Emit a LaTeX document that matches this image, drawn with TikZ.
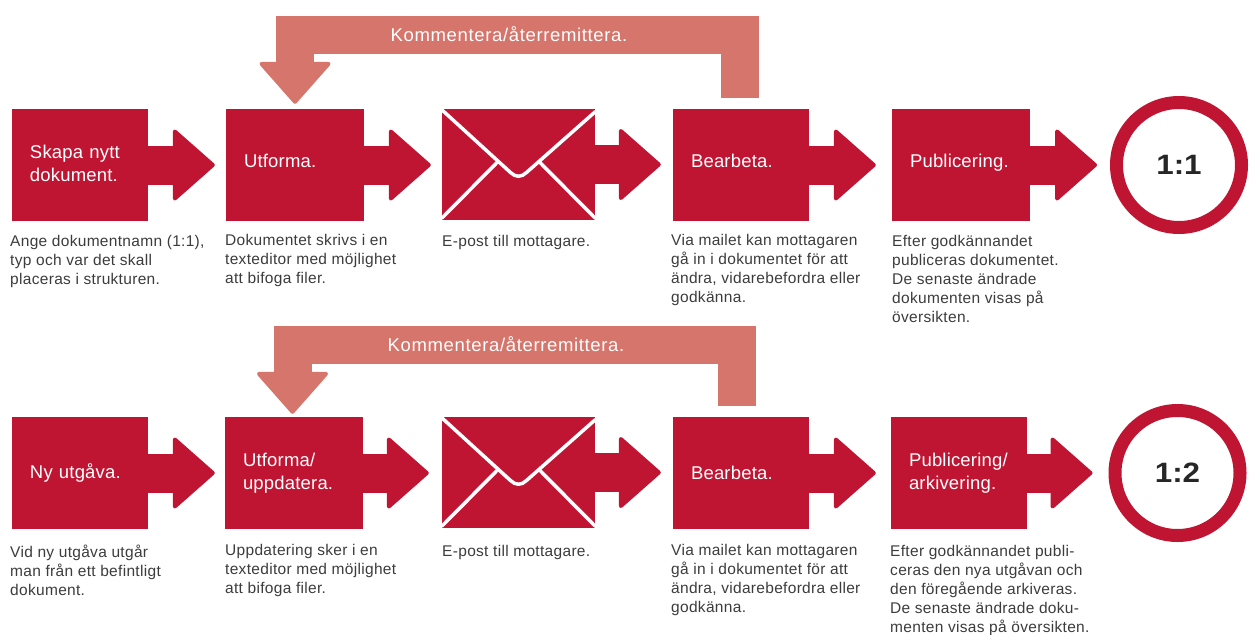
\documentclass[tikz,border=0pt]{standalone}
\usepackage{fontspec}
\setmainfont{Liberation Sans}
\newfontfamily\brodfont[LetterSpace=2]{Liberation Sans}
\newfontfamily\rubrikfont[LetterSpace=1]{Liberation Sans}
\newfontfamily\returfont[LetterSpace=3.5]{Liberation Sans}
\newfontfamily\ringfont[FakeStretch=1.12]{Liberation Sans}
\usepackage{xcolor}
\usetikzlibrary{arrows.meta}

\definecolor{flodered}{RGB}{192,21,50}
\definecolor{returrosa}{RGB}{214,117,107}
\definecolor{brodtext}{RGB}{60,60,60}

\tikzset{
  box/.style={fill=flodered,text=white,text width=#1,inner xsep=18pt,inner ysep=0pt,
    minimum height=112pt,align=left,font=\rubrikfont\fontsize{18.5}{23}\selectfont},
  lyft/.style={text depth=9pt},
  mail/.style={fill=flodered,minimum width=153pt,minimum height=111pt,inner sep=0pt},
  ring/.style={circle,draw=flodered,line width=13pt,minimum size=125pt,inner sep=0pt,
    text=black!85,font=\ringfont\fontsize{28}{30}\bfseries\selectfont},
  note/.style={anchor=north west,inner sep=0pt,align=left,text=brodtext,
    font=\brodfont\fontsize{15.5}{19}\selectfont},
  flow/.style={draw=flodered,line width=39pt,shorten >=#1,
    -{Triangle[length=43pt,width=75pt,line width=4pt,round,fill=flodered]}},
  flow/.default=11pt,
  retur/.style={draw=returrosa,line width=38pt,shorten >=#1,
    -{Triangle[length=43pt,width=75pt,line width=4pt,round,fill=returrosa]}},
  retur/.default=5pt,
  returtext/.style={inner sep=0pt,text=white,font=\returfont\fontsize{18.5}{20}\selectfont},
  kuvert/.pic={
    \draw[white,line width=3.5pt] (-77,-55) -- (-8,8) .. controls (-3,13) and (3,13) .. (8,8) -- (77,-53);
    \draw[white,line width=3.5pt] (-21,-2.5) -- (-77,54);
    \draw[white,line width=3.5pt] (21,-2.5) -- (77,54);
  }
}

\begin{document}
\begin{tikzpicture}[x=1pt,y=-1pt]
    \useasboundingbox (0,0) rectangle (1254,635);

    % First row
    \node[box=100pt,text depth=26pt] (skapa) at (80,165) {Skapa nytt\\dokument.};
    \node[box=102pt,lyft] (utforma) at (295,165) {Utforma.};
    \node[mail] (mail) at (518.5,164.5) {};
    \node[box=100pt,lyft] (bearbeta) at (741,165) {Bearbeta.};
    \node[box=102pt,lyft] (publicering) at (961,165) {Publicering.};
    \node[ring] (ettett) at (1179,165) {1:1};
    \pic at (mail.center) {kuvert};

    \draw[flow] (skapa.east) -- (utforma.west);
    \draw[flow] (utforma.east) -- (utforma.east -| mail.west);
    \draw[flow=12pt] (mail.east) -- (mail.east -| bearbeta.west);
    \draw[flow=16pt] (bearbeta.east) -- (publicering.west);
    \draw[flow=13pt] (publicering.east) -- (ettett.west);

    % Return arrow, first row
    \coordinate (returstart) at (739.5,98);
    \coordinate (returmitt) at (509,34.5);
    \draw[retur] (returstart) |- (returmitt) -| (utforma.north);
    \node[returtext] (kommentera) at (returmitt) {Kommentera/återremittera.};

    % Notes, first row
    \node[note] (skapatext) at (10,235) {Ange dokumentnamn (1:1),\\typ och var det skall\\placeras i strukturen.};
    \node[note] (utformatext) at (225,234) {Dokumentet skrivs i en\\texteditor med möjlighet\\att bifoga filer.};
    \node[note] (mailtext) at (442,235) {E-post till mottagare.};
    \node[note] (bearbetatext) at (671,234) {Via mailet kan mottagaren\\gå in i dokumentet för att\\ändra, vidarebefordra eller\\godkänna.};
    \node[note] (publtext) at (892,235) {Efter godkännandet\\publiceras dokumentet.\\De senaste ändrade\\dokumenten visas på\\översikten.};

    % Second row
    \node[box=100pt] (ny) at (80,473) {Ny utgåva.};
    \node[box=102pt] (uppdatera) at (294,473) {Utforma/\\uppdatera.};
    \node[mail] (mailb) at (518.5,472.5) {};
    \node[box=100pt] (bearbetab) at (741,473) {Bearbeta.};
    \node[box=100pt] (arkivering) at (959,473) {Publicering/\\arkivering.};
    \node[ring] (ettva) at (1177.5,473) {1:2};
    \pic at (mailb.center) {kuvert};

    \draw[flow=10pt] (ny.east) -- (uppdatera.west);
    \draw[flow=13pt] (uppdatera.east) -- (uppdatera.east -| mailb.west);
    \draw[flow=12pt] (mailb.east) -- (mailb.east -| bearbetab.west);
    \draw[flow=15pt] (bearbetab.east) -- (arkivering.west);
    \draw[flow=16pt] (arkivering.east) -- (ettva.west);

    % Return arrow, second row
    \coordinate (returstartb) at (736.5,406);
    \coordinate (returmittb) at (506,344.5);
    \draw[retur=3pt] (returstartb) |- (returmittb) -| ([xshift=-1.5pt]uppdatera.north);
    \node[returtext] (kommenterab) at (returmittb) {Kommentera/återremittera.};

    % Notes, second row
    \node[note] (nytext) at (10,545) {Vid ny utgåva utgår\\man från ett befintligt\\dokument.};
    \node[note] (uppdateratext) at (225,544) {Uppdatering sker i en\\texteditor med möjlighet\\att bifoga filer.};
    \node[note] (mailbtext) at (442,545) {E-post till mottagare.};
    \node[note] (bearbetabtext) at (671,544) {Via mailet kan mottagaren\\gå in i dokumentet för att\\ändra, vidarebefordra eller\\godkänna.};
    \node[note] (arkivtext) at (890,545) {Efter godkännandet publi-\\ceras den nya utgåvan och\\den föregående arkiveras.\\De senaste ändrade doku-\\menten visas på översikten.};
\end{tikzpicture}
\end{document}
